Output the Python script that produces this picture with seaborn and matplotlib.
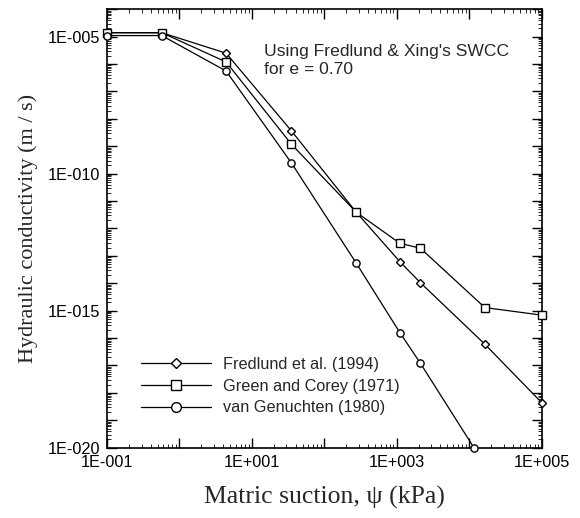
import numpy as np
import pandas as pd
import matplotlib
matplotlib.use("Agg")
import matplotlib.pyplot as plt
from matplotlib.ticker import LogLocator, FuncFormatter, NullFormatter
import seaborn as sns

# Matric suction (kPa) at which the permeability functions were evaluated
suction = [0.1, 0.57, 4.4, 35, 276, 1100, 2120, 16400, 100000]
suction_vg = [0.1, 0.57, 4.4, 35, 276, 1100, 2120, 11600]

# Hydraulic conductivity (m/s)
k_fredlund = [1.4e-5, 1.4e-5, 2.5e-6, 3.7e-9, 3.9e-12, 6.2e-14, 1.05e-14, 6e-17, 4.4e-19]
k_green_corey = [1.4e-5, 1.4e-5, 1.2e-6, 1.2e-9, 3.9e-12, 2.9e-13, 1.9e-13, 1.3e-15, 6.9e-16]
k_van_genuchten = [1.1e-5, 1.1e-5, 5.6e-7, 2.5e-10, 5.4e-14, 1.6e-16, 1.2e-17, 1e-20]

series_labels = ["Fredlund et al. (1994)", "Green and Corey (1971)", "van Genuchten (1980)"]
annotation = "Using Fredlund & Xing's SWCC\nfor e = 0.70"
x_label = "Matric suction, \u03c8 (kPa)"
y_label = "Hydraulic conductivity (m / s)"

sns.set_style("ticks")
plt.rcParams["font.family"] = ["Liberation Sans", "DejaVu Sans"]

fig = plt.figure(figsize=(5.8, 5.18), dpi=100)
W, H = 580, 518
ax = fig.add_axes([107 / W, 1 - 447.7 / H, (541.7 - 107) / W, (447.7 - 9.3) / H])

curves = [
    (suction, k_fredlund, "D", 3.8),
    (suction, k_green_corey, "s", 5.8),
    (suction_vg, k_van_genuchten, "o", 5.2),
]
for (xs, ys, mk, ms), lab in zip(curves, series_labels):
    sns.lineplot(x=xs, y=ys, ax=ax, sort=False, estimator=None, color="black",
                 linewidth=0.9, marker=mk, markersize=ms, markerfacecolor="white",
                 markeredgecolor="black", markeredgewidth=1.0, label=lab,
                 clip_on=False, zorder=3)

ax.set_xscale("log")
ax.set_yscale("log")
ax.set_xlim(1e-1, 1e5)
ax.set_ylim(1e-20, 1e-4)


def decade_label(v, every, offset):
    # Label only every n-th decade, in the "1E-005" style
    e = int(round(np.log10(v)))
    if (e - offset) % every != 0:
        return ""
    return f"1E{e:+04d}"


ax.xaxis.set_major_locator(LogLocator(base=10, numticks=20))
ax.xaxis.set_minor_locator(LogLocator(base=10, subs=np.arange(2, 10), numticks=100))
ax.xaxis.set_major_formatter(FuncFormatter(lambda v, p: decade_label(v, 2, 1)))
ax.xaxis.set_minor_formatter(NullFormatter())
ax.yaxis.set_major_locator(LogLocator(base=10, numticks=30))
ax.yaxis.set_minor_locator(LogLocator(base=10, subs=np.arange(2, 10), numticks=100))
ax.yaxis.set_major_formatter(FuncFormatter(lambda v, p: decade_label(v, 5, 0)))
ax.yaxis.set_minor_formatter(NullFormatter())

ax.tick_params(which="both", direction="in", top=True, right=True, colors="black",
               labelsize=11.7)
ax.tick_params(which="major", length=7, width=1.0, pad=5)
ax.tick_params(which="minor", length=3, width=0.6)
for s in ax.spines.values():
    s.set_color("black")
    s.set_linewidth(1.2)

ax.set_xlabel(x_label, family="Liberation Serif", fontsize=18.5, labelpad=12)
ax.set_ylabel(y_label, family="Liberation Serif", fontsize=16, labelpad=7)

ax.text(0.361, 0.92, annotation, transform=ax.transAxes, ha="left", va="top",
        fontsize=12.6, linespacing=1.2)

leg = ax.legend(loc="lower left", bbox_to_anchor=(0.06, 0.055), frameon=False,
                fontsize=11.7, handlelength=4.3, markerscale=1.35, labelspacing=0.42,
                handletextpad=0.75, borderpad=0)

fig.savefig("out.png", dpi=100)
